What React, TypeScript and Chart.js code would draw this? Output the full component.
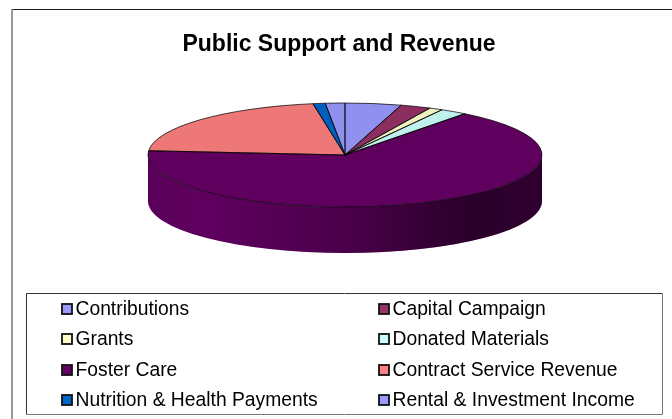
import React, { useEffect, useRef } from "react";
import { Chart, registerables } from "chart.js";

Chart.register(...registerables);

const categories = [
  "Contributions",
  "Capital Campaign",
  "Grants",
  "Donated Materials",
  "Foster Care",
  "Contract Service Revenue",
  "Nutrition & Health Payments",
  "Rental & Investment Income",
];
const shares = [4.6, 2.5, 1.1, 2.2, 65.9, 21.1, 1.0, 1.6];
const sliceColors = ["#9090EE", "#8C2F60", "#F0F0C0", "#BFF0EC", "#5F005F", "#EE7777", "#005FBF", "#9090EE"];
const legendColors = ["#9999FF", "#993366", "#FFFFCC", "#CCFFFF", "#660066", "#FF8080", "#0066CC", "#9999FF"];
const chartTitle = "Public Support and Revenue";

const FONT = '"Liberation Sans", Arial, sans-serif';
const PIE = { cx: 345, cy: 155, rx: 197, ry: 52, depth: 46 };

const framePlugin = {
  id: "frame",
  beforeDraw(chart: any) {
    const { ctx, width, height } = chart;
    ctx.save();
    ctx.fillStyle = "#fff";
    ctx.fillRect(0, 0, width, height);
    ctx.strokeStyle = "#1a1a1a";
    ctx.lineWidth = 1.2;
    ctx.beginPath();
    ctx.moveTo(12, 9.5);
    ctx.lineTo(width, 9.5);
    ctx.stroke();
    ctx.strokeStyle = "#808080";
    ctx.lineWidth = 1.6;
    ctx.beginPath();
    ctx.moveTo(12, 9);
    ctx.lineTo(12, height);
    ctx.stroke();
    ctx.restore();
  },
};

const pie3dPlugin = {
  id: "pie3d",
  beforeDatasetsDraw(chart: any) {
    const { ctx } = chart;
    const arcs = chart.getDatasetMeta(0).data;
    const { cx, cy, rx, ry, depth } = PIE;
    ctx.save();
    arcs.forEach((arc: any, i: number) => {
      const a0 = Math.max(arc.startAngle, 0);
      const a1 = Math.min(arc.endAngle, Math.PI);
      if (a1 <= a0) return;
      const wall = () => {
        ctx.beginPath();
        ctx.ellipse(cx, cy, rx, ry, 0, a0, a1);
        ctx.ellipse(cx, cy + depth, rx, ry, 0, a1, a0, true);
        ctx.closePath();
      };
      wall();
      ctx.fillStyle = sliceColors[i];
      ctx.fill();
      const g = ctx.createLinearGradient(cx - rx, 0, cx + rx, 0);
      g.addColorStop(0, "rgba(0,0,0,0.06)");
      g.addColorStop(0.15, "rgba(0,0,0,0)");
      g.addColorStop(0.5, "rgba(0,0,0,0.22)");
      g.addColorStop(0.82, "rgba(0,0,0,0.56)");
      g.addColorStop(1, "rgba(0,0,0,0.5)");
      wall();
      ctx.fillStyle = g;
      ctx.fill();
    });
    ctx.restore();
    const a = arcs[0];
    ctx.save();
    ctx.translate(cx, cy);
    ctx.scale(rx / a.outerRadius, ry / a.outerRadius);
    ctx.translate(-a.x, -a.y);
  },
  afterDatasetsDraw(chart: any) {
    const { ctx } = chart;
    const arcs = chart.getDatasetMeta(0).data;
    arcs.forEach((arc: any) => {
      ctx.beginPath();
      ctx.moveTo(arc.x, arc.y);
      ctx.arc(arc.x, arc.y, arc.outerRadius, arc.startAngle, arc.endAngle);
      ctx.closePath();
      ctx.save();
      ctx.setTransform(1, 0, 0, 1, 0, 0);
      ctx.strokeStyle = "rgba(0,0,0,0.9)";
      ctx.lineWidth = 0.8;
      ctx.stroke();
      ctx.restore();
    });
    ctx.restore();
  },
};

const gridLegendPlugin = {
  id: "gridLegend",
  afterDraw(chart: any) {
    const { ctx } = chart;
    const labels: string[] = chart.data.labels;
    ctx.save();
    ctx.fillStyle = "#fff";
    ctx.fillRect(26, 293, 636, 122);
    ctx.strokeStyle = "#333";
    ctx.lineWidth = 1;
    ctx.beginPath();
    ctx.moveTo(662.5, 293.5);
    ctx.lineTo(26.5, 293.5);
    ctx.lineTo(26.5, 414.5);
    ctx.stroke();
    ctx.strokeStyle = "#777";
    ctx.beginPath();
    ctx.moveTo(26.5, 414.5);
    ctx.lineTo(662.5, 414.5);
    ctx.lineTo(662.5, 293.5);
    ctx.stroke();
    ctx.font = `19.3px ${FONT}`;
    ctx.textBaseline = "middle";
    ctx.textAlign = "left";
    const colX = [62, 379];
    const rowY = [309, 339, 370, 400];
    labels.forEach((label, i) => {
      const x = colX[i % 2];
      const y = rowY[Math.floor(i / 2)];
      ctx.fillStyle = legendColors[i];
      ctx.fillRect(x, y - 5, 10, 10);
      ctx.strokeStyle = "#111";
      ctx.lineWidth = 1.8;
      ctx.strokeRect(x, y - 5, 10, 10);
      ctx.fillStyle = "#000";
      ctx.fillText(label, x + 13.5, y + 1);
    });
    ctx.restore();
  },
};

export default function App() {
  const ref = useRef<HTMLCanvasElement | null>(null);
  useEffect(() => {
    const chart = new Chart(ref.current as HTMLCanvasElement, {
      type: "pie",
      data: {
        labels: categories,
        datasets: [{ data: shares, backgroundColor: sliceColors, borderWidth: 0 }],
      },
      options: {
        responsive: false,
        animation: false,
        devicePixelRatio: 1,
        layout: { padding: { left: 6, top: 0, right: 0, bottom: 0 } },
        plugins: {
          legend: { display: false },
          tooltip: { enabled: false },
          title: {
            display: true,
            text: chartTitle,
            color: "#000",
            font: { family: FONT, size: 23, weight: "bold" },
            padding: { top: 31, bottom: 10 },
          },
        },
      },
      plugins: [framePlugin, pie3dPlugin, gridLegendPlugin],
    } as any);
    return () => chart.destroy();
  }, []);
  return (
    <canvas
      ref={ref}
      width={672}
      height={419}
      style={{ position: "fixed", left: 0, top: 0, width: 672, height: 419, display: "block" }}
    />
  );
}
